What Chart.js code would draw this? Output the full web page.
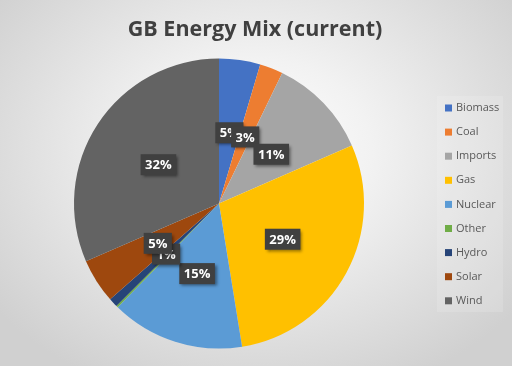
<!DOCTYPE html>
<html>
<head>
<meta charset="utf-8">
<script src="https://cdn.jsdelivr.net/npm/chart.js@4"></script>
<style>
html,body{margin:0;padding:0;}
body{width:512px;height:366px;overflow:hidden;background:radial-gradient(ellipse 330px 260px at 256px 150px,#ffffff 0%,#f2f2f2 35%,#d0d0d0 100%);}
canvas{display:block;}
</style>
</head>
<body>
<canvas id="c" width="512" height="366"></canvas>
<script>
const chartTitle = 'GB Energy Mix (current)';
const categories = ['Biomass','Coal','Imports','Gas','Nuclear','Other','Hydro','Solar','Wind'];
const shares = [4.6, 2.6, 11.3, 29.1, 14.9, 0.2, 1.0, 5.0, 31.6];
const colors = ['#4472C4','#ED7D31','#A5A5A5','#FFC000','#5B9BD5','#70AD47','#264478','#9E480E','#636363'];

const overlay = {
  id: 'overlay',
  afterDatasetsDraw(chart) {
    const ctx = chart.ctx;
    const meta = chart.getDatasetMeta(0);
    const data = chart.data.datasets[0].data;
    ctx.save();
    ctx.font = 'bold 13px "Open Sans"';
    ctx.textAlign = 'center';
    ctx.textBaseline = 'middle';
    meta.data.forEach((arc, i) => {
      const v = data[i];
      if (v < 0.5) return;
      const p = arc.getProps(['x','y','startAngle','endAngle','outerRadius'], true);
      const mid = (p.startAngle + p.endAngle) / 2;
      const r = p.outerRadius * 0.5;
      const x = p.x + Math.cos(mid) * r;
      const y = p.y + Math.sin(mid) * r + 1;
      const txt = Math.round(v) + '%';
      const w = ctx.measureText(txt).width + 9;
      const h = 21;
      ctx.shadowColor = 'rgba(0,0,0,0.45)';
      ctx.shadowBlur = 3;
      ctx.shadowOffsetX = 2;
      ctx.shadowOffsetY = 2;
      ctx.fillStyle = '#404040';
      ctx.fillRect(x - w/2, y - h/2, w, h);
      ctx.shadowColor = 'transparent';
      ctx.fillStyle = '#ffffff';
      ctx.fillText(txt, x, y + 1);
    });
    ctx.restore();
  },
  afterDraw(chart) {
    const ctx = chart.ctx;
    ctx.save();
    // title
    ctx.fillStyle = '#404040';
    ctx.font = 'bold 21.5px "Open Sans"';
    ctx.textAlign = 'center';
    ctx.textBaseline = 'middle';
    ctx.fillText(chartTitle, 255, 30);
    // legend
    ctx.fillStyle = 'rgba(255,255,255,0.14)';
    ctx.fillRect(437, 96, 66, 216);
    ctx.font = '11px "Open Sans"';
    ctx.textAlign = 'left';
    chart.data.labels.forEach((lab, i) => {
      const y = 108 + i * 24.1;
      ctx.fillStyle = chart.data.datasets[0].backgroundColor[i];
      ctx.fillRect(445, y - 3.5, 7, 7);
      ctx.fillStyle = '#595959';
      ctx.fillText(lab, 456, y);
    });
    ctx.restore();
  }
};

new Chart(document.getElementById('c'), {
  type: 'pie',
  data: {
    labels: categories,
    datasets: [{
      data: shares,
      backgroundColor: colors,
      borderWidth: 0
    }]
  },
  options: {
    responsive: false,
    animation: false,
    layout: { padding: { left: 74, right: 148, top: 58, bottom: 17 } },
    plugins: {
      legend: { display: false },
      title: { display: false },
      tooltip: { enabled: false }
    }
  },
  plugins: [overlay]
});
</script>
</body>
</html>
